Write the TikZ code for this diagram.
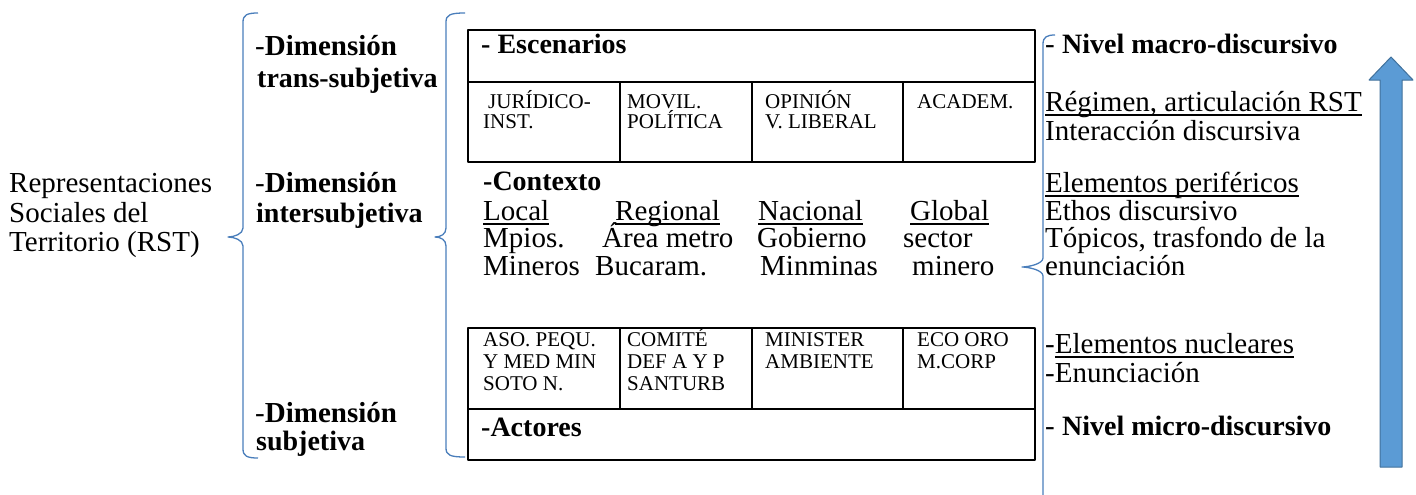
\documentclass[tikz,border=0pt]{standalone}
\usepackage{fontspec}
\setmainfont{Liberation Serif}
\definecolor{bracecol}{RGB}{74,126,187}
\definecolor{arrowfill}{RGB}{91,155,213}
\definecolor{arrowline}{RGB}{65,113,156}
\newcommand{\bodyfont}{\fontsize{29}{30}\selectfont}
\newcommand{\boldfont}{\fontsize{28}{30}\selectfont\bfseries}
\newcommand{\cellfont}{\fontsize{21}{21}\selectfont}
\newcommand{\undl}[1]{\setbox0\hbox{#1}\rlap{\rule[-4.5pt]{\wd0}{1.2pt}}\box0}

\begin{document}
\begin{tikzpicture}[x=1pt, y=-1pt, line join=round,
		txt/.style={anchor=base west, inner sep=0pt, font=\bodyfont},
		bold/.style={anchor=base west, inner sep=0pt, font=\boldfont},
		celltxt/.style={anchor=base west, inner sep=0pt, font=\cellfont},
		brace/.style={draw=bracecol, line width=1.3pt},
		table/.style={draw=black, line width=1.6pt}]
		\clip (0,0) rectangle (1416,495);
		\foreach \x/\t/\m/\b/\d/\h in {243/13/237/458/15/15, 446/13/237/457/11/19, 1043/35/267/530/21/12}{
			\draw[brace] (\x+\h,\t) .. controls (\x+4,\t) and (\x,\t+2) .. (\x,\t+9) -- (\x,\m-9) .. controls (\x,\m-3) and (\x-\d+6,\m) .. (\x-\d,\m) .. controls (\x-\d+6,\m) and (\x,\m+3) .. (\x,\m+9) -- (\x,\b-9) .. controls (\x,\b-2) and (\x+4,\b) .. (\x+\h,\b);
		}
		\draw[table] (468,30) rectangle (1035,162) (468,82) -- (1035,82);
		\draw[table] (468,328) rectangle (1035,460) (468,409) -- (1035,409);
		\foreach \x in {620, 752, 903}{
			\draw[table] (\x,82) -- (\x,162);
			\draw[table] (\x,328) -- (\x,409);
		}
		\draw[fill=arrowfill, draw=arrowline, line width=1pt] (1391,57) -- (1413,80) -- (1402,80) -- (1402,467) -- (1380,467) -- (1380,80) -- (1369,80) -- cycle;
		\foreach \i/\y/\t in {1/192/Representaciones, 2/222/Sociales del, 3/251/Territorio (RST)}{
			\node[txt] (rst\i) at (9,\y) {\t};
		}
		\node[txt] (trans) at (255,56) {-\textbf{Dimensión}};
		\node[bold] (transb) at (257,88) {trans-subjetiva};
		\node[txt] (inter) at (255,192) {-\textbf{Dimensión}};
		\node[bold] (interb) at (256,222) {intersubjetiva};
		\node[txt] (subj) at (255,422) {-\textbf{Dimensión}};
		\node[bold] (subjb) at (256,450) {subjetiva};
		\node[bold] (escen) at (481,54) {- Escenarios};
		\foreach \n/\x/\y/\t in {j1/488/108/JURÍDICO-, j2/483/128/INST., m1/627/108/MOVIL., m2/627/128/POLÍTICA, o1/765/108/OPINIÓN, o2/765/128/V. LIBERAL, a1/917/108/ACADEM.}{
			\node[celltxt] (\n) at (\x,\y) {\t};
		}
		\node[bold] (contexto) at (483,190) {-Contexto};
		\foreach \n/\x/\t in {loc/483/Local, reg/615/Regional, nac/758/Nacional, glo/910/Global}{
			\node[txt] (\n) at (\x,220) {\undl{\t}};
		}
		\foreach \n/\x/\y/\t in {mp/483/247/Mpios., am/602/247/Área metro, go/757/247/Gobierno, se/903/247/sector, mi/483/275/Mineros, bu/595/275/Bucaram., mm/760/275/Minminas, me/912/275/minero}{
			\node[txt] (\n) at (\x,\y) {\t};
		}
		\foreach \n/\x/\y/\t in {as1/483/346/ASO. PEQU., as2/483/368/Y MED MIN, as3/483/390/SOTO N., co1/627/346/COMITÉ, co2/627/368/DEF A Y P, co3/627/390/SANTURB, mn1/765/346/MINISTER, mn2/765/368/AMBIENTE, ec1/917/346/ECO ORO, ec2/917/368/M.CORP}{
			\node[celltxt] (\n) at (\x,\y) {\t};
		}
		\node[bold] (actores) at (481,436) {-Actores};
		\node[txt] (macro) at (1045,54) {- \textbf{\fontsize{28}{30}\selectfont Nivel macro-discursivo}};
		\node[txt] (regimen) at (1045,111) {\undl{Régimen, articulación RST}};
		\node[txt] (interac) at (1045,140) {Interacción discursiva};
		\node[txt] (perif) at (1045,192) {\undl{Elementos periféricos}};
		\node[txt] (ethos) at (1045,220) {Ethos discursivo};
		\node[txt] (topicos) at (1045,247) {Tópicos, trasfondo de la};
		\node[txt] (enun) at (1045,275) {enunciación};
		\node[txt] (nucl) at (1045,353) {-\undl{Elementos nucleares}};
		\node[txt] (enun2) at (1045,382) {-Enunciación};
		\node[txt] (micro) at (1045,435) {- \textbf{\fontsize{28}{30}\selectfont Nivel micro-discursivo}};
	\end{tikzpicture}
\end{document}
